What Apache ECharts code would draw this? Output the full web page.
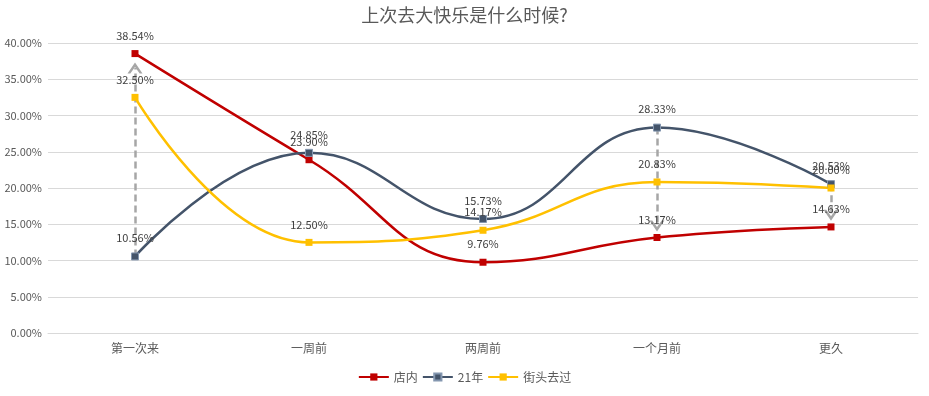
<!DOCTYPE html>
<html>
<head>
<meta charset="utf-8">
<script src="https://cdn.jsdelivr.net/npm/echarts@6/dist/echarts.min.js"></script>
<style>
  html, body { margin: 0; padding: 0; background: #fff; }
  #box { width: 929px; height: 396px; }
</style>
</head>
<body>
<div id="box"></div>
<script>
// 分类
var categories = ['第一次来', '一周前', '两周前', '一个月前', '更久']
// 各系列数据 (%)
var inStore = [38.54, 23.90, 9.76, 13.17, 14.63]
var year21 = [10.56, 24.85, 15.73, 28.33, 20.53]
var street = [32.50, 12.50, 14.17, 20.83, 20.00]
// 虚线箭头所在的分类下标（从21年指向店内）
var arrowIdx = [0, 3, 4]

var colors = ['#C00000', '#44546A', '#FFC000']

function pct(v) {
  return v.toFixed(2) + '%'
}

// 箭头：起点21年，终点店内（留一点空隙）
var arrows = arrowIdx.map(function (i) {
  var from = year21[i]
  var to = inStore[i]
  var gap = to > from ? -2.0 : 1.6
  return [
    { coord: [categories[i], from] },
    { coord: [categories[i], to + gap] }
  ]
})

function makeSeries(name, data, color, extra) {
  var s = {
    name: name,
    type: 'line',
    data: data,
    smooth: 0.45,
    symbol: 'rect',
    symbolSize: 7,
    color: color,
    lineStyle: { width: 2.5, color: color },
    itemStyle: { color: color },
    label: {
      show: true,
      position: 'top',
      distance: 9,
      color: '#404040',
      fontSize: 11,
      formatter: function (p) { return pct(p.value) }
    },
    z: 3
  }
  return Object.assign(s, extra || {})
}

var myChart = echarts.init(document.getElementById('box'))
myChart.setOption({
  animation: false,
  textStyle: { fontFamily: '"Noto Sans CJK SC", "Liberation Sans", sans-serif' },
  title: {
    text: '上次去大快乐是什么时候?',
    left: 'center',
    top: 1,
    textStyle: { color: '#595959', fontSize: 18, fontWeight: 'normal' }
  },
  legend: {
    bottom: 8,
    itemWidth: 30,
    itemHeight: 9,
    itemGap: 4,
    textStyle: { color: '#595959', fontSize: 12 },
    data: ['店内', '21年', '街头去过']
  },
  grid: { left: 48, right: 11, top: 43, bottom: 63, containLabel: false },
  xAxis: {
    type: 'category',
    data: categories,
    boundaryGap: true,
    axisLine: { lineStyle: { color: '#d9d9d9' } },
    axisTick: { show: false },
    axisLabel: { color: '#595959', fontSize: 12, margin: 9 }
  },
  yAxis: {
    type: 'value',
    min: 0,
    max: 40,
    interval: 5,
    axisLine: { show: false },
    axisTick: { show: false },
    axisLabel: { color: '#595959', fontSize: 11, margin: 6, formatter: function (v) { return pct(v) } },
    splitLine: { lineStyle: { color: '#d9d9d9' } }
  },
  series: [
    makeSeries('店内', inStore, colors[0]),
    makeSeries('21年', year21, colors[1], {
      itemStyle: { color: colors[1], borderColor: '#8497B0', borderWidth: 1 },
      markLine: {
        silent: true,
        symbol: ['none', 'path://M0,11 L8,0 L16,11 L13,11 L8,4.5 L3,11 Z'],
        symbolSize: [15, 11],
        label: { show: false },
        lineStyle: { color: '#A6A6A6', type: [7, 4], width: 2.5 },
        data: arrows,
        z: 2
      }
    }),
    makeSeries('街头去过', street, colors[2])
  ]
})
</script>
</body>
</html>
